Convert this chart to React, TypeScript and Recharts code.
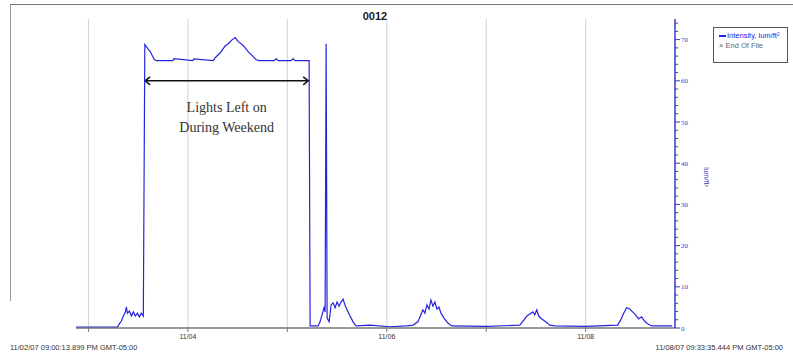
import {
  LineChart,
  Line,
  XAxis,
  YAxis,
  ReferenceLine,
} from "recharts";

// days since 11/03/07 00:00 (local time)
const dayOffsets = [
  -0.125, 0.291, 0.311, 0.331, 0.351, 0.371, 0.382, 0.392, 0.412, 0.432, 0.452,
  0.472, 0.492, 0.512, 0.532, 0.552, 0.567, 0.582, 0.602, 0.622, 0.643, 0.663,
  0.683, 0.85, 0.86, 1.05, 1.06, 1.255, 1.275, 1.325, 1.376, 1.406, 1.446,
  1.476, 1.506, 1.536, 1.566, 1.606, 1.647, 1.687, 1.717, 1.868, 1.888, 1.908,
  2.038, 2.058, 2.078, 2.219, 2.229, 2.309, 2.329, 2.349, 2.369, 2.38, 2.39,
  2.395, 2.4, 2.42, 2.44, 2.46, 2.48, 2.5, 2.52, 2.54, 2.56, 2.58, 2.6, 2.631,
  2.661, 2.691, 2.83, 3.03, 3.2, 3.263, 3.313, 3.343, 3.363, 3.383, 3.404,
  3.424, 3.444, 3.464, 3.484, 3.504, 3.524, 3.545, 3.575, 3.614, 3.655, 4.0,
  4.337, 4.378, 4.408, 4.438, 4.468, 4.488, 4.508, 4.528, 4.558, 4.598, 4.639,
  4.69, 5.0, 5.321, 5.351, 5.382, 5.412, 5.442, 5.472, 5.502, 5.532, 5.562,
  5.592, 5.622, 5.663, 5.87,
];

// Intensity, lum/ft²
const intensity = [
  0.2, 0.2, 1.0, 1.7, 2.9, 3.9, 5.1, 3.6, 4.1, 2.9, 3.9,
  2.9, 3.6, 2.7, 3.6, 2.9, 68.8, 68.3, 67.6, 67.1, 66.1, 65.1,
  64.9, 64.9, 65.4, 64.9, 65.3, 64.9, 65.6, 66.8, 68.5, 69.0, 70.0,
  70.5, 69.5, 69.0, 68.3, 67.1, 66.1, 65.1, 64.9, 64.9, 65.4, 64.9,
  64.9, 65.4, 64.9, 64.9, 0.5, 0.5, 1.5, 3.2, 4.9, 3.9, 69.0,
  36.0, 2.4, 1.5, 5.6, 6.1, 4.9, 6.3, 5.3, 6.3, 7.0, 5.6, 4.4, 2.9,
  1.5, 0.5, 0.7, 0.3, 0.5, 0.7, 1.5, 3.2, 4.4, 3.6, 5.6,
  4.6, 6.8, 5.3, 6.3, 4.6, 5.1, 3.6, 2.4, 1.2, 0.5, 0.4,
  0.7, 1.9, 2.9, 3.4, 3.9, 3.2, 4.4, 2.9, 2.2, 1.5, 0.7,
  0.5, 0.4, 0.7, 1.9, 3.6, 4.9, 4.6, 3.9, 3.2, 2.2, 2.7,
  1.7, 1.0, 0.5, 0.5,
];

const dayTicks = [0, 1, 2, 3, 4, 5];
const dayLabels = ["", "11/04", "", "11/06", "", "11/08"];
const yTicks = Array.from({ length: 38 }, (_, i) => i * 2);

const startStamp = "11/02/07 09:00:13.899 PM GMT-05:00";
const endStamp = "11/08/07 09:33:35.444 PM GMT-05:00";

const ARROW_FROM = 0.57;
const ARROW_TO = 2.21;
const ARROW_Y = 60;

const BLUE = "#2424e0";
const AXIS_BLUE = "#3a3ac8";

const data = dayOffsets.map((d, i) => ({ d, v: intensity[i] }));

function RightTick(props: any) {
  const { x, y, payload } = props;
  const major = payload.value % 10 === 0;
  return (
    <g>
      <line x1={x} y1={y} x2={x + (major ? 5 : 3)} y2={y} stroke={AXIS_BLUE} />
      {major && (
        <text x={x + 6} y={y} dy={2.5} fontSize={7} fill={AXIS_BLUE}>
          {payload.value}
        </text>
      )}
    </g>
  );
}

function Arrow(props: any) {
  const { x1, y1, x2, y2 } = props;
  const mid = (x1 + x2) / 2;
  return (
    <g>
      <line x1={x1} y1={y1} x2={x2} y2={y2} stroke="#111" strokeWidth={1.5} />
      <polyline
        points={`${x1 + 5},${y1 - 4} ${x1},${y1} ${x1 + 5},${y1 + 4}`}
        fill="none"
        stroke="#111"
        strokeWidth={1.5}
      />
      <polyline
        points={`${x2 - 5},${y2 - 4} ${x2},${y2} ${x2 - 5},${y2 + 4}`}
        fill="none"
        stroke="#111"
        strokeWidth={1.5}
      />
      <text
        x={mid}
        y={y1 + 31}
        textAnchor="middle"
        fontFamily="'Liberation Serif', serif"
        fontSize={14}
        fill="#333"
      >
        Lights Left on
      </text>
      <text
        x={mid}
        y={y1 + 51}
        textAnchor="middle"
        fontFamily="'Liberation Serif', serif"
        fontSize={14}
        fill="#333"
      >
        During Weekend
      </text>
    </g>
  );
}

const small = { fontFamily: "'Liberation Sans', Arial, sans-serif", fontSize: 7.5, color: "#333" };

export default function App() {
  return (
    <div style={{ position: "absolute", left: 0, top: 0, width: 793, height: 356, background: "#fff" }}>
      <div style={{ position: "absolute", left: 10, top: 4, width: 783, height: 296, borderTop: "1px solid #777", borderLeft: "1px solid #999" }} />
      <LineChart
        width={793}
        height={356}
        data={data}
        margin={{ top: 19, right: 73, bottom: 8, left: 76 }}
      >
        {dayTicks.map((t) => (
          <ReferenceLine key={t} x={t} stroke="#d2d2d2" />
        ))}
        <XAxis
          dataKey="d"
          type="number"
          domain={[-0.125, 5.898]}
          ticks={dayTicks}
          tickFormatter={(v: number) => dayLabels[dayTicks.indexOf(v)] ?? ""}
          height={20}
          tickSize={4}
          stroke="#777"
          tick={{ fontSize: 7, fill: "#333", fontFamily: "'Liberation Sans', sans-serif" }}
          axisLine={{ stroke: "#777", strokeWidth: 1.5 }}
        />
        <YAxis
          orientation="right"
          type="number"
          domain={[0, 75]}
          ticks={yTicks}
          width={45}
          tickSize={0}
          tickMargin={0}
          tickLine={false}
          axisLine={{ stroke: AXIS_BLUE, strokeWidth: 1.5 }}
          tick={<RightTick />}
          interval={0}
        />
        <ReferenceLine
          segment={[
            { x: ARROW_FROM, y: ARROW_Y },
            { x: ARROW_TO, y: ARROW_Y },
          ]}
          shape={(p: any) => <Arrow {...p} />}
          ifOverflow="visible"
        />
        <Line
          type="linear"
          dataKey="v"
          stroke={BLUE}
          strokeWidth={1.2}
          dot={false}
          isAnimationActive={false}
        />
      </LineChart>

      <div style={{ position: "absolute", left: 350, top: 10, width: 50, textAlign: "center", fontFamily: "'Liberation Sans', sans-serif", fontSize: 11, fontWeight: 600, color: "#222" }}>
        0012
      </div>
      <div style={{ position: "absolute", left: 706, top: 177, transform: "translate(-50%, -50%) rotate(90deg)", fontFamily: "'Liberation Sans', sans-serif", fontSize: 7, color: AXIS_BLUE, whiteSpace: "nowrap" }}>
        lum/ft²
      </div>
      <div style={{ position: "absolute", left: 713, top: 27, width: 75, height: 36, border: "1px solid #555", boxSizing: "border-box", fontFamily: "'Liberation Sans', sans-serif", fontSize: 7.5 }}>
        <div style={{ position: "absolute", left: 5, top: 3, color: BLUE, whiteSpace: "nowrap" }}>
          <span style={{ display: "inline-block", width: 7, height: 2, background: BLUE, verticalAlign: "middle", marginRight: 1 }} />
          Intensity, lum/ft²
        </div>
        <div style={{ position: "absolute", left: 5, top: 13, color: "#666", whiteSpace: "nowrap" }}>
          × End Of File
        </div>
      </div>
      <div style={{ ...small, position: "absolute", left: 10, top: 343, whiteSpace: "nowrap" }}>{startStamp}</div>
      <div style={{ ...small, position: "absolute", right: 10, top: 343, whiteSpace: "nowrap" }}>{endStamp}</div>
    </div>
  );
}
